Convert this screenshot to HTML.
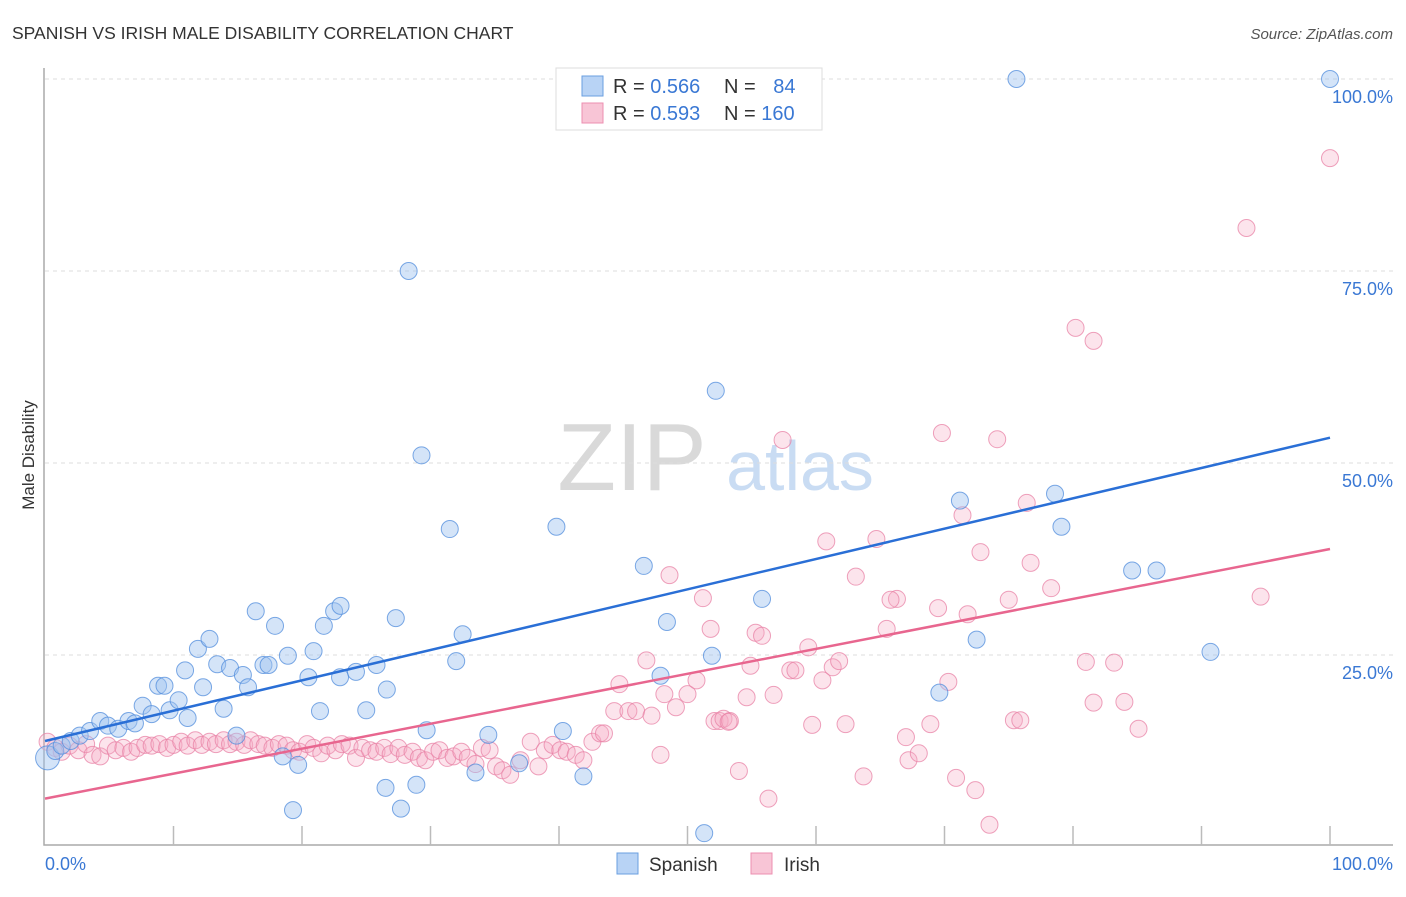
<!DOCTYPE html>
<html><head><meta charset="utf-8"><style>
body{margin:0;background:#fff;font-family:"Liberation Sans",sans-serif;}
svg text{font-family:"Liberation Sans",sans-serif;}
</style></head><body>
<svg id="c" width="1406" height="892">
<text x="12" y="39" font-size="17.5" fill="#333">SPANISH VS IRISH MALE DISABILITY CORRELATION CHART</text>
<text x="1393" y="39" font-size="15" fill="#555" font-style="italic" text-anchor="end">Source: ZipAtlas.com</text>
<text transform="translate(34,455) rotate(-90)" font-size="17" fill="#333" text-anchor="middle">Male Disability</text>
<g><text x="632" y="490" font-size="96" fill="#d9d9d9" font-family="Liberation Serif" text-anchor="middle">ZIP</text><text x="800" y="490" font-size="70" fill="#c9dcf3" text-anchor="middle">atlas</text></g>
<g id="grid"></g><g id="axes"></g><g id="pts"></g><g id="lines"></g>
<g>
<rect x="556" y="68" width="266" height="62" fill="#fff" stroke="#ddd"/>
<rect x="582" y="76" width="21" height="20" fill="#b8d3f5" stroke="#6a9fe0"/>
<rect x="582" y="103" width="21" height="20" fill="#f8c5d6" stroke="#ec8fb0"/>
<text x="613" y="93" font-size="20" fill="#333">R = <tspan fill="#3a78d4">0.566</tspan></text>
<text x="724" y="93" font-size="20" fill="#333">N = <tspan fill="#3a78d4" dx="12">84</tspan></text>
<text x="613" y="120" font-size="20" fill="#333">R = <tspan fill="#3a78d4">0.593</tspan></text>
<text x="724" y="120" font-size="20" fill="#333">N = <tspan fill="#3a78d4">160</tspan></text>
</g>
<g>
<rect x="617" y="853" width="21" height="21" fill="#b8d3f5" stroke="#6a9fe0"/>
<text x="649" y="871" font-size="19" fill="#333">Spanish</text>
<rect x="751" y="853" width="21" height="21" fill="#f8c5d6" stroke="#ec8fb0"/>
<text x="784" y="871" font-size="19" fill="#333">Irish</text>
</g>
<text x="45" y="870" font-size="18" fill="#3a78d4">0.0%</text>
<text x="1393" y="870" font-size="18" fill="#3a78d4" text-anchor="end">100.0%</text>
</svg>
<script>
const yTicks=[100,75,50,25];
const yTickLabels=["100.0%","75.0%","50.0%","25.0%"];
const spanishX=[0.2,0.8,1.3,2,2.7,3.5,4.3,4.9,5.7,6.5,7,7.6,8.3,8.8,9.3,9.7,10.4,10.9,11.1,11.9,12.3,12.8,13.4,13.9,14.4,14.9,15.4,15.8,16.4,17,17.4,17.9,18.5,18.9,19.3,19.7,20.5,20.9,21.4,21.7,22.5,23,22.96,24.2,25,25.8,26.5,26.6,27.3,27.7,28.3,28.9,29.3,29.7,31.5,32,32.5,33.5,34.5,36.9,39.8,40.3,41.9,46.6,47.9,48.4,51.3,51.9,52.2,55.8,69.6,71.2,72.5,75.6,78.6,79.1,84.6,86.5,90.7,100];
const spanishY=[11.6,12.5,13.2,13.8,14.5,15.1,16.4,15.8,15.4,16.4,16.1,18.4,17.3,21,21,17.8,19.1,23,16.8,25.8,20.8,27.1,23.8,18,23.3,14.5,22.4,20.8,30.7,23.7,23.7,28.8,11.8,24.9,4.8,10.7,22.1,25.5,17.7,28.8,30.7,31.4,22.1,22.8,17.8,23.7,7.7,20.5,29.8,5,75,8.1,51,15.2,41.4,24.2,27.7,9.7,14.6,10.9,41.7,15.1,9.2,36.6,22.3,29.3,1.8,24.9,59.4,32.3,20.1,45.1,27,100,46,41.7,36,36,25.4,100];
const irishX=[0.2,0.8,1.3,1.9,2.6,3.2,3.7,4.3,4.9,5.5,6.1,6.7,7.2,7.8,8.3,8.9,9.5,10,10.6,11.1,11.7,12.2,12.8,13.3,13.9,14.4,14.9,15.5,16,16.6,17.1,17.7,18.2,18.8,19.3,19.8,20.4,20.9,21.5,22,22.6,23.1,23.7,24.2,24.7,25.3,25.8,26.4,26.9,27.5,28,28.6,29.1,29.6,30.2,30.7,31.3,31.8,32.4,32.9,33.5,34,34.6,35.1,35.6,36.2,37,37.8,38.4,38.9,39.5,40.1,40.6,41.3,41.9,42.6,43.2,43.5,44.3,44.7,45.4,46,46.8,47.2,47.9,48.2,48.6,49.1,50,50.7,51.2,51.8,52.1,52.5,52.8,53.3,54,54.6,54.9,55.3,55.8,56.3,56.7,57.4,58,58.4,59.4,59.7,60.5,60.8,61.3,61.8,62.3,63.1,63.7,64.7,65.5,66.3,67,67.2,68,68.9,69.5,69.8,70.3,70.9,71.4,71.8,72.4,72.8,73.5,74.1,75,75.4,76.4,76.7,78.3,80.2,81,81.6,81.6,83.2,84,85.1,93.5,94.6,100,75.9,53.2,65.8];
const irishY=[13.7,12.9,12.4,13.2,12.6,13.4,12,11.8,13.2,12.6,12.9,12.4,12.9,13.3,13.2,13.4,12.9,13.3,13.7,13.2,13.9,13.3,13.7,13.4,13.9,13.4,13.7,13.3,13.9,13.4,13.2,12.9,13.4,13.2,12.6,12.4,13.4,12.9,12.2,13.2,12.6,13.4,13.2,11.6,12.9,12.6,12.4,12.9,12.1,12.9,12,12.4,11.6,11.3,12.4,12.6,11.6,11.8,12.4,11.6,10.8,12.9,12.6,10.5,10,9.4,11.3,13.7,10.5,12.6,13.3,12.6,12.4,12,11.3,13.7,14.8,14.8,17.7,21.2,17.7,17.7,24.3,17.1,12,19.9,35.4,18.2,19.9,21.7,32.4,28.4,16.4,16.4,16.7,16.4,9.9,19.5,23.6,27.9,27.5,6.3,19.8,53,23,23,26,15.9,21.7,39.8,23.4,24.2,16,35.2,9.2,40.1,28.4,32.3,14.3,11.3,12.2,16,31.1,53.9,21.5,9,43.2,30.3,7.4,38.4,2.9,53.1,32.2,16.5,44.8,37,33.7,67.6,24.1,65.9,18.8,24,18.9,15.4,80.6,32.6,89.7,16.5,16.3,32.2];
const spanishTrend=[13.8,53.3];
const irishTrend=[6.3,38.8];
const X0=45,X1=1330,Y0=847,Y100=79;
const sx=v=>X0+(X1-X0)*v/100;
const sy=v=>Y0-(Y0-Y100)*v/100;
const NS="http://www.w3.org/2000/svg";
function mk(t,a,p){const e=document.createElementNS(NS,t);for(const k in a)e.setAttribute(k,a[k]);p.appendChild(e);return e;}
const grid=document.getElementById('grid'),axes=document.getElementById('axes'),pts=document.getElementById('pts'),lines=document.getElementById('lines');
yTicks.forEach((t,i)=>{
 const l=mk('line',{x1:45,x2:1393,y1:sy(t),y2:sy(t),stroke:'#ddd','stroke-dasharray':'4,4'},grid);
 
 
 const tx=mk('text',{x:1393,y:sy(t)+24,'font-size':18,fill:'#3a78d4','text-anchor':'end'},grid);
 tx.textContent=yTickLabels[i];
 
 
});
const ax=mk('path',{d:'M44,68 V845 H1393',stroke:'#aaa',fill:'none','stroke-width':1.5},axes);


for(let k=1;k<=10;k++){const x=sx(k*10);const t=mk('line',{x1:x,x2:x,y1:826,y2:845,stroke:'#bbb','stroke-width':1.5},axes);

}
irishX.forEach((v,i)=>{const c=mk('circle',{cx:sx(v),cy:sy(irishY[i]),r:8.5,fill:'rgba(246,170,196,0.32)',stroke:'rgba(232,130,165,0.75)','stroke-width':1},pts);

});
spanishX.forEach((v,i)=>{const c=mk('circle',{cx:sx(v),cy:sy(spanishY[i]),r:i==0?12:8.5,fill:'rgba(160,196,240,0.45)',stroke:'rgba(80,140,220,0.75)','stroke-width':1},pts);

});
const l1=mk('line',{x1:sx(0),y1:sy(spanishTrend[0]),x2:sx(100),y2:sy(spanishTrend[1]),stroke:'#2a6fd6','stroke-width':2.5},lines);


const l2=mk('line',{x1:sx(0),y1:sy(irishTrend[0]),x2:sx(100),y2:sy(irishTrend[1]),stroke:'#e8668f','stroke-width':2.5},lines);


</script>
</body></html>
